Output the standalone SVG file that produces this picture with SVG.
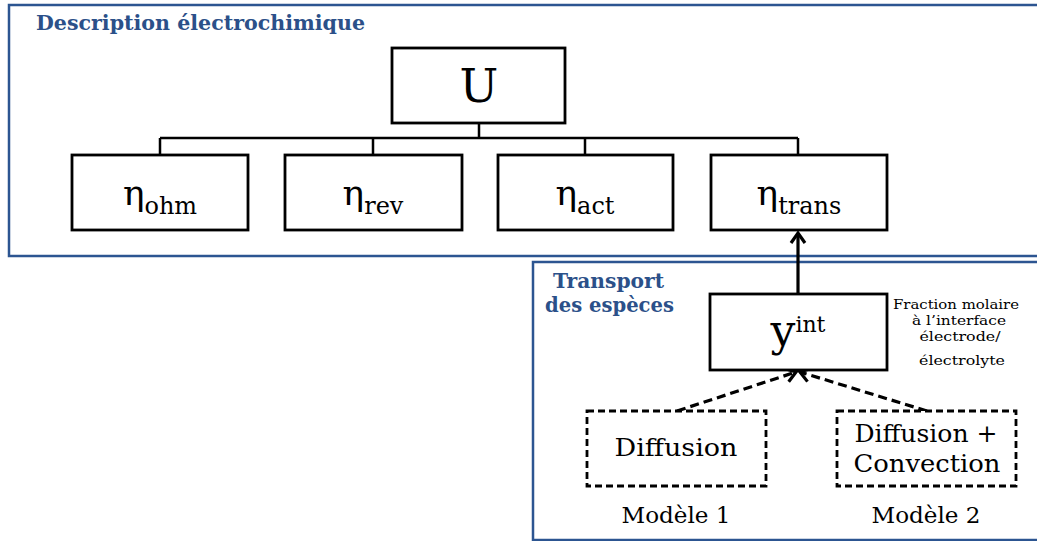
<svg xmlns="http://www.w3.org/2000/svg" width="1037" height="541" viewBox="0 0 1037 541">
<defs>
<style>
.frame{fill:none;stroke:#2C5591;stroke-width:2.5}
.box{fill:#fff;stroke:#000;stroke-width:2.8}
.dbox{fill:#fff;stroke:#000;stroke-width:2.8;stroke-dasharray:7 4}
.conn{fill:none;stroke:#000;stroke-width:2.5}
.arrow{fill:none;stroke:#000;stroke-width:3.2}
.darrow{fill:none;stroke:#000;stroke-width:3.2;stroke-dasharray:9 5}
.title{font-family:"DejaVu Serif","Liberation Serif",serif;font-weight:bold;fill:#2B5089;font-size:20px}
.t{font-family:"DejaVu Serif","Liberation Serif",serif;fill:#000}
</style>
<marker id="chev" markerUnits="userSpaceOnUse" markerWidth="24" markerHeight="24" refX="12" refY="12" orient="auto" viewBox="0 0 24 24">
<path d="M2,5 L12,12 L2,19" fill="none" stroke="#000" stroke-width="3.2"/>
</marker>
</defs>
<rect width="1037" height="541" fill="#fff"/>

<g id="frame-electro">
<rect class="frame" x="9" y="5" width="1040" height="251"/>
<text class="title" x="36" y="30" textLength="329" lengthAdjust="spacingAndGlyphs">Description électrochimique</text>
</g>
<g id="frame-transport">
<rect class="frame" x="533" y="262" width="520" height="278"/>
<text class="title" x="553" y="288" textLength="111" lengthAdjust="spacingAndGlyphs">Transport</text>
<text class="title" x="545" y="312" textLength="129" lengthAdjust="spacingAndGlyphs">des espèces</text>
</g>

<g id="connectors">
<path class="conn" d="M479,123 V138 M160,138 H798 M160,138 V155 M373,138 V155 M585,138 V155 M798,138 V155"/>
<line class="arrow" x1="798" y1="294" x2="798" y2="233" marker-end="url(#chev)"/>
<line class="darrow" x1="677" y1="411" x2="796" y2="372" marker-end="url(#chev)"/>
<line class="darrow" x1="927" y1="411" x2="800" y2="372" marker-end="url(#chev)"/>
</g>

<g id="node-U">
<rect class="box" x="392" y="48" width="173" height="75"/>
<text class="t" x="479" y="102" font-size="46" text-anchor="middle">U</text>
</g>
<g id="node-ohm">
<rect class="box" x="72" y="155" width="176" height="75"/>
<text class="t" x="160" y="205" font-size="36" text-anchor="middle">η<tspan font-size="24" dy="9">ohm</tspan></text>
</g>
<g id="node-rev">
<rect class="box" x="285" y="155" width="177" height="75"/>
<text class="t" x="373" y="205" font-size="36" text-anchor="middle">η<tspan font-size="24" dy="9">rev</tspan></text>
</g>
<g id="node-act">
<rect class="box" x="498" y="155" width="175" height="75"/>
<text class="t" x="585" y="205" font-size="36" text-anchor="middle">η<tspan font-size="24" dy="9">act</tspan></text>
</g>
<g id="node-trans">
<rect class="box" x="711" y="155" width="176" height="75"/>
<text class="t" x="799" y="205" font-size="36" text-anchor="middle">η<tspan font-size="24" dy="9">trans</tspan></text>
</g>
<g id="node-yint">
<rect class="box" x="710" y="294" width="177" height="76"/>
<text class="t" x="798" y="346" font-size="44" text-anchor="middle">y<tspan font-size="22" dy="-14">int</tspan></text>
<g class="t" font-size="13" text-anchor="middle">
<text x="956" y="309" textLength="126" lengthAdjust="spacingAndGlyphs">Fraction molaire</text>
<text x="959" y="325" textLength="94" lengthAdjust="spacingAndGlyphs">à l’interface</text>
<text x="960" y="341" textLength="81" lengthAdjust="spacingAndGlyphs">électrode/</text>
<text x="962" y="365" textLength="86" lengthAdjust="spacingAndGlyphs">électrolyte</text>
</g>
</g>
<g id="node-diffusion">
<rect class="dbox" x="587" y="411" width="179" height="75"/>
<text class="t" x="676" y="456" font-size="25" text-anchor="middle" textLength="123" lengthAdjust="spacingAndGlyphs">Diffusion</text>
<text class="t" x="676" y="523" font-size="22" text-anchor="middle" textLength="109" lengthAdjust="spacingAndGlyphs">Modèle 1</text>
</g>
<g id="node-diffconv">
<rect class="dbox" x="837" y="411" width="179" height="75"/>
<text class="t" x="926" y="442" font-size="25" text-anchor="middle" textLength="143" lengthAdjust="spacingAndGlyphs">Diffusion +</text>
<text class="t" x="927" y="472" font-size="25" text-anchor="middle" textLength="147" lengthAdjust="spacingAndGlyphs">Convection</text>
<text class="t" x="926" y="523" font-size="22" text-anchor="middle" textLength="109" lengthAdjust="spacingAndGlyphs">Modèle 2</text>
</g>
</svg>
